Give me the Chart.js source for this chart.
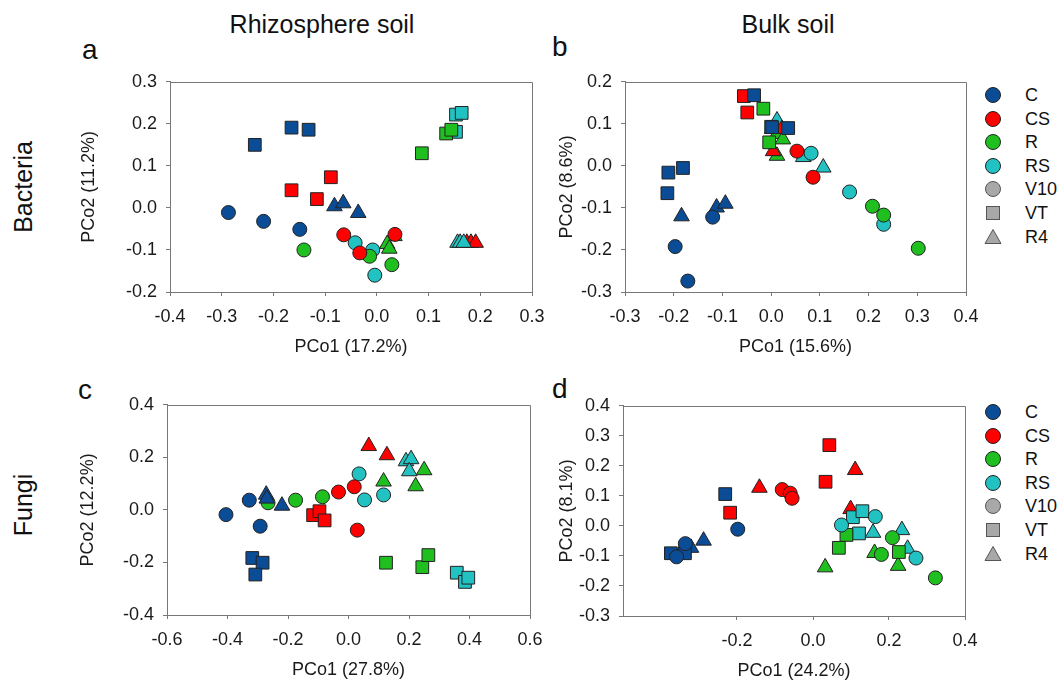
<!DOCTYPE html>
<html>
<head>
<meta charset="utf-8">
<script src="https://cdn.jsdelivr.net/npm/chart.js@4.4.0/dist/chart.umd.min.js"></script>
<style>
  body { margin: 0; background: #fff; width: 1064px; height: 684px; position: relative; overflow: hidden;
         font-family: 'Liberation Sans', Arial, sans-serif; color: #111; }
  canvas { position: absolute; }
  .txt { position: absolute; white-space: nowrap; line-height: 1; }
  .legend { position: absolute; left: 980px; }
  .item { position: absolute; left: 0; height: 20px; width: 84px; }
  .item svg { position: absolute; left: 4px; top: 1px; }
  .item span { position: absolute; left: 45px; top: 1px; font-size: 18px; line-height: 1; }
</style>
</head>
<body>

<div class="txt" style="font-size:25px;left:322px;top:12px;transform:translateX(-50%)">Rhizosphere soil</div>
<div class="txt" style="font-size:25px;left:788px;top:12px;transform:translateX(-50%)">Bulk soil</div>
<div class="txt" style="font-size:28px;left:82px;top:36px">a</div>
<div class="txt" style="font-size:28px;left:552px;top:33px">b</div>
<div class="txt" style="font-size:28px;left:78px;top:376px">c</div>
<div class="txt" style="font-size:28px;left:552px;top:375px">d</div>
<div class="txt" style="font-size:25px;left:23px;top:187px;transform:translate(-50%,-50%) rotate(-90deg)">Bacteria</div>
<div class="txt" style="font-size:25px;left:23px;top:505px;transform:translate(-50%,-50%) rotate(-90deg)">Fungi</div>

<div class="legend" id="legTop" style="top:0px"></div>
<div class="legend" id="legBottom" style="top:0px"></div>

<canvas id="pa"></canvas>
<canvas id="pb"></canvas>
<canvas id="pc"></canvas>
<canvas id="pd"></canvas>

<script>
// treatments and sampling groups
const treatments = ['C', 'CS', 'R', 'RS'];
const groups = ['V10', 'VT', 'R4'];

// a: bacteria, rhizosphere soil  [PCo1, PCo2]
const aC_V10  = [[-0.287, -0.011], [-0.219, -0.032], [-0.149, -0.051]];
const aC_VT   = [[-0.236, 0.150], [-0.165, 0.191], [-0.132, 0.186]];
const aC_R4   = [[-0.082, 0.004], [-0.065, 0.011], [-0.036, -0.012]];
const aCS_V10 = [[-0.064, -0.064], [-0.033, -0.107], [0.035, -0.063]];
const aCS_VT  = [[-0.165, 0.042], [-0.116, 0.021], [-0.089, 0.073]];
const aCS_R4  = [[0.174, -0.083], [0.182, -0.083], [0.191, -0.083]];
const aR_V10  = [[-0.141, -0.100], [-0.014, -0.115], [0.029, -0.135]];
const aR_VT   = [[0.087, 0.130], [0.134, 0.177], [0.144, 0.186]];
const aR_R4   = [[0.034, -0.067], [0.020, -0.086], [0.024, -0.097]];
const aRS_V10 = [[-0.042, -0.083], [-0.008, -0.100], [-0.004, -0.160]];
const aRS_VT  = [[0.153, 0.222], [0.164, 0.226], [0.153, 0.181]];
const aRS_R4  = [[0.156, -0.083], [0.161, -0.083], [0.168, -0.083]];

// b: bacteria, bulk soil
const bC_V10  = [[-0.197, -0.192], [-0.171, -0.274], [-0.120, -0.122]];
const bC_VT   = [[-0.211, -0.016], [-0.181, -0.005], [-0.213, -0.065], [-0.035, 0.168], [0.002, 0.092], [0.035, 0.090]];
const bC_R4   = [[-0.184, -0.120], [-0.112, -0.099], [-0.094, -0.090]];
const bCS_V10 = [[0.053, 0.035], [0.086, -0.027]];
const bCS_VT  = [[-0.056, 0.166], [-0.049, 0.127]];
const bCS_R4  = [[0.002, 0.088], [0.022, 0.088], [0.004, 0.035]];
const bR_V10  = [[0.208, -0.096], [0.231, -0.117], [0.302, -0.196]];
const bR_VT   = [[-0.016, 0.136], [0.000, 0.093], [-0.004, 0.056]];
const bR_R4   = [[0.012, 0.076], [0.024, 0.063], [0.012, 0.024]];
const bRS_V10 = [[0.082, 0.030], [0.161, -0.062], [0.231, -0.139]];
const bRS_VT  = [];
const bRS_R4  = [[0.012, 0.108], [0.066, 0.021], [0.107, -0.004]];

// c: fungi, rhizosphere soil
const cC_V10  = [[-0.405, -0.018], [-0.328, 0.037], [-0.292, -0.062]];
const cC_VT   = [[-0.318, -0.183], [-0.284, -0.201], [-0.308, -0.246]];
const cC_R4   = [[-0.272, 0.058], [-0.270, 0.043], [-0.220, 0.016]];
const cCS_V10 = [[-0.033, 0.068], [0.019, 0.088], [0.029, -0.077]];
const cCS_VT  = [[-0.117, -0.020], [-0.096, -0.005], [-0.079, -0.040]];
const cCS_R4  = [[0.067, 0.243], [0.127, 0.208]];
const cR_V10  = [[-0.266, 0.027], [-0.175, 0.037], [-0.086, 0.050]];
const cR_VT   = [[0.124, -0.201], [0.244, -0.218], [0.264, -0.172]];
const cR_R4   = [[0.116, 0.108], [0.222, 0.090], [0.250, 0.151]];
const cRS_V10 = [[0.035, 0.137], [0.053, 0.038], [0.116, 0.057]];
const cRS_VT  = [[0.358, -0.239], [0.385, -0.274], [0.396, -0.258]];
const cRS_R4  = [[0.190, 0.185], [0.207, 0.193], [0.201, 0.147]];

// d: fungi, bulk soil
const dC_V10  = [[-0.359, -0.103], [-0.336, -0.059], [-0.198, -0.011]];
const dC_VT   = [[-0.374, -0.091], [-0.337, -0.091], [-0.231, 0.106]];
const dC_R4   = [[-0.345, -0.083], [-0.321, -0.073], [-0.288, -0.049]];
const dCS_V10 = [[-0.081, 0.121], [-0.060, 0.109], [-0.055, 0.092]];
const dCS_VT  = [[-0.218, 0.044], [0.033, 0.147], [0.043, 0.269]];
const dCS_R4  = [[-0.141, 0.127], [0.111, 0.186], [0.099, 0.056]];
const dR_V10  = [[0.209, -0.039], [0.180, -0.095], [0.322, -0.173]];
const dR_VT   = [[0.068, -0.073], [0.088, -0.030], [0.226, -0.087]];
const dR_R4   = [[0.032, -0.138], [0.162, -0.090], [0.224, -0.133]];
const dRS_V10 = [[0.075, 0.003], [0.164, 0.031], [0.271, -0.107]];
const dRS_VT  = [[0.105, 0.029], [0.130, 0.049], [0.121, -0.025]];
const dRS_R4  = [[0.158, -0.023], [0.234, -0.014], [0.249, -0.076]];

const colors = { C: '#0b4c96', CS: '#ff0000', R: '#1fbf1f', RS: '#22c2c2' };
const styles = { V10: ['circle', 7], VT: ['rect', 9], R4: ['triangle', 9] };
const FONT = "'Liberation Sans', Arial, sans-serif";

function makeSets(list) {
  // list: [treatment, group, points]
  return list.map(([t, g, pts]) => ({
    label: t + ' ' + g,
    data: pts.map(p => ({ x: p[0], y: p[1] })),
    pointStyle: styles[g][0],
    pointRadius: styles[g][1],
    backgroundColor: colors[t],
    borderColor: '#222',
    borderWidth: 1,
    clip: false
  }));
}

const frame = {
  id: 'frame',
  beforeDatasetsDraw(chart) {
    const a = chart.chartArea, ctx = chart.ctx;
    ctx.save();
    ctx.strokeStyle = '#777';
    ctx.lineWidth = 1;
    ctx.beginPath();
    ctx.moveTo(Math.round(a.left) + 0.5, Math.round(a.top) + 0.5);
    ctx.lineTo(Math.round(a.right) + 0.5, Math.round(a.top) + 0.5);
    ctx.lineTo(Math.round(a.right) + 0.5, Math.round(a.bottom) + 0.5);
    ctx.stroke();
    ctx.restore();
  }
};

const fmt = v => (Math.abs(v) < 1e-9 ? 0 : v).toFixed(1);

function panel(id, area, canvasLeft, xTitleY, xr, yr, xTitle, yTitle, sets) {
  const padTop = 12, padRight = 26;
  const yW = area.left - canvasLeft;
  const xH = Math.round(xTitleY + 10.8) - area.bottom;
  const el = document.getElementById(id);
  el.width = yW + (area.right - area.left) + padRight;
  el.height = padTop + (area.bottom - area.top) + xH;
  el.style.left = canvasLeft + 'px';
  el.style.top = (area.top - padTop) + 'px';

  const axis = (r, title) => ({
    type: 'linear',
    min: r[0], max: r[1],
    ticks: { stepSize: r[2], callback: fmt, font: { size: 18, family: FONT }, color: '#1a1a1a', autoSkip: false, maxRotation: 0 },
    afterBuildTicks: s => { s.ticks = s.ticks.filter(t => t.value >= r[3] - 1e-9); },
    grid: { drawOnChartArea: false, drawTicks: true, tickLength: 4, color: '#777' },
    border: { color: '#777', width: 1 },
    title: { display: true, text: title, font: { size: 18, family: FONT }, color: '#1a1a1a', padding: 0 }
  });
  const x = axis(xr, xTitle);
  x.position = 'bottom';
  x.ticks.padding = 10;
  x.afterFit = s => { s.height = xH; };
  const y = axis(yr, yTitle);
  y.position = 'left';
  y.ticks.padding = 9;
  y.afterFit = s => { s.width = yW; };

  new Chart(el, {
    type: 'scatter',
    data: { datasets: makeSets(sets) },
    options: {
      responsive: false,
      animation: false,
      devicePixelRatio: 1,
      layout: { padding: { left: 0, top: padTop, right: padRight, bottom: 0 }, autoPadding: false },
      plugins: { legend: { display: false }, tooltip: { enabled: false } },
      scales: { x, y }
    },
    plugins: [frame]
  });
}

panel('pa', { left: 170, top: 74, right: 532, bottom: 292 }, 78, 347,
  [-0.4, 0.3, 0.1, -0.4], [-0.2, 0.3, 0.1, -0.2], 'PCo1 (17.2%)', 'PCo2 (11.2%)', [
    ['C', 'V10', aC_V10], ['CS', 'V10', aCS_V10], ['R', 'V10', aR_V10], ['RS', 'V10', aRS_V10],
    ['C', 'VT', aC_VT], ['CS', 'VT', aCS_VT], ['R', 'VT', aR_VT], ['RS', 'VT', aRS_VT],
    ['C', 'R4', aC_R4], ['RS', 'R4', aRS_R4], ['CS', 'R4', aCS_R4], ['R', 'R4', aR_R4]
  ]);

panel('pb', { left: 625, top: 74, right: 966, bottom: 292 }, 556, 347,
  [-0.3, 0.4, 0.1, -0.3], [-0.3, 0.2, 0.1, -0.3], 'PCo1 (15.6%)', 'PCo2 (8.6%)', [
    ['C', 'V10', bC_V10], ['CS', 'V10', bCS_V10], ['R', 'V10', bR_V10], ['RS', 'V10', bRS_V10],
    ['C', 'VT', bC_VT], ['CS', 'VT', bCS_VT], ['R', 'VT', bR_VT], ['RS', 'VT', bRS_VT],
    ['C', 'R4', bC_R4], ['CS', 'R4', bCS_R4], ['RS', 'R4', bRS_R4], ['R', 'R4', bR_R4]
  ]);

panel('pc', { left: 167, top: 397, right: 530, bottom: 615 }, 77, 670,
  [-0.6, 0.6, 0.2, -0.6], [-0.4, 0.4, 0.2, -0.4], 'PCo1 (27.8%)', 'PCo2 (12.2%)', [
    ['C', 'R4', cC_R4], ['C', 'V10', cC_V10], ['CS', 'V10', cCS_V10], ['R', 'V10', cR_V10], ['RS', 'V10', cRS_V10],
    ['C', 'VT', cC_VT], ['CS', 'VT', cCS_VT], ['R', 'VT', cR_VT], ['RS', 'VT', cRS_VT],
    ['CS', 'R4', cCS_R4], ['R', 'R4', cR_R4], ['RS', 'R4', cRS_R4]
  ]);

panel('pd', { left: 623, top: 398, right: 965, bottom: 616 }, 556, 671,
  [-0.5, 0.4, 0.2, -0.4], [-0.3, 0.4, 0.1, -0.3], 'PCo1 (24.2%)', 'PCo2 (8.1%)', [
    ['C', 'V10', dC_V10], ['CS', 'V10', dCS_V10], ['R', 'V10', dR_V10], ['RS', 'V10', dRS_V10],
    ['C', 'VT', dC_VT], ['CS', 'VT', dCS_VT], ['R', 'VT', dR_VT], ['RS', 'VT', dRS_VT],
    ['C', 'R4', dC_R4], ['CS', 'R4', dCS_R4], ['R', 'R4', dR_R4], ['RS', 'R4', dRS_R4]
  ]);

// legends (right of b and d)
function marker(kind, fill, stroke) {
  if (kind === 'circle') return `<svg width="18" height="18"><circle cx="9" cy="9" r="7.5" fill="${fill}" stroke="${stroke}"/></svg>`;
  if (kind === 'rect') return `<svg width="18" height="18"><rect x="2.5" y="2.5" width="13" height="13" fill="${fill}" stroke="${stroke}"/></svg>`;
  return `<svg width="18" height="18"><polygon points="9,1.5 17,15.5 1,15.5" fill="${fill}" stroke="${stroke}"/></svg>`;
}
function legend(id, firstY) {
  const box = document.getElementById(id);
  const items = treatments.map(t => [marker('circle', colors[t], '#222'), t])
    .concat(groups.map(g => [marker(styles[g][0], '#a8a8a8', '#555'), g]));
  items.forEach(([svg, txt], i) => {
    const cy = firstY + i * 23.6;
    const d = document.createElement('div');
    d.className = 'item';
    d.style.top = (cy - 10) + 'px';
    d.innerHTML = svg + `<span>${txt}</span>`;
    box.appendChild(d);
  });
}
legend('legTop', 95);
legend('legBottom', 412);
</script>
</body>
</html>
